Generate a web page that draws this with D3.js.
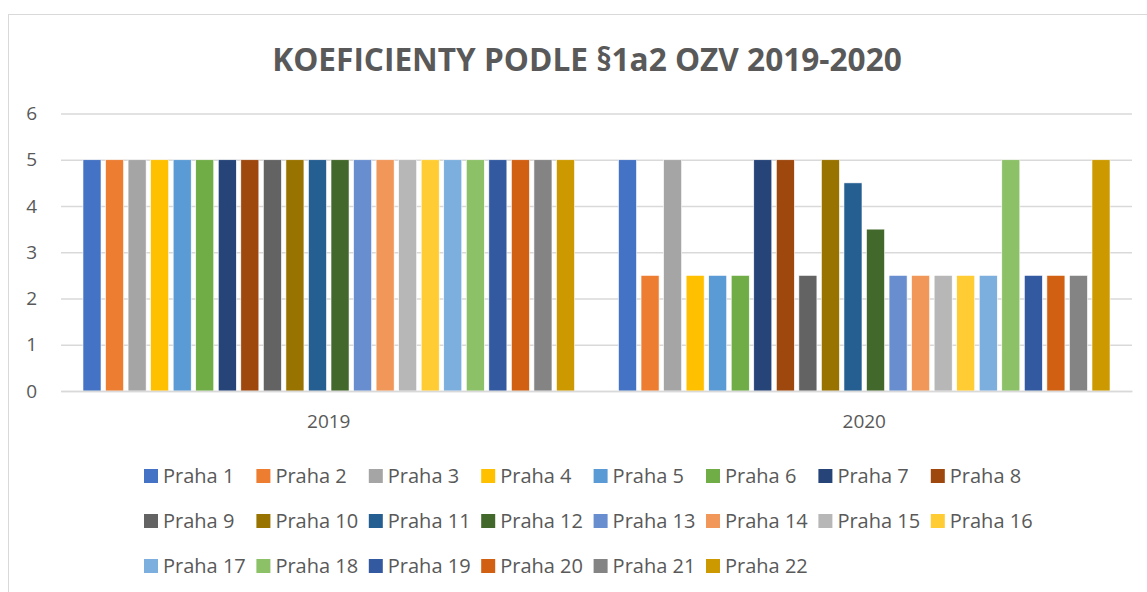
<!DOCTYPE html>
<html>
<head>
<meta charset="utf-8">
<style>
  body { margin: 0; background: #fff; }
  text { font-family: "Open Sans", sans-serif; fill: #595959; }
</style>
</head>
<body>
<svg id="chart" width="1147" height="592"></svg>
<script src="https://cdnjs.cloudflare.com/ajax/libs/d3/7.8.5/d3.min.js"></script>
<script>
// data
var years = ["2019", "2020"];
var districts = ["Praha 1", "Praha 2", "Praha 3", "Praha 4", "Praha 5", "Praha 6", "Praha 7", "Praha 8",
  "Praha 9", "Praha 10", "Praha 11", "Praha 12", "Praha 13", "Praha 14", "Praha 15", "Praha 16",
  "Praha 17", "Praha 18", "Praha 19", "Praha 20", "Praha 21", "Praha 22"];
var values2019 = [5, 5, 5, 5, 5, 5, 5, 5, 5, 5, 5, 5, 5, 5, 5, 5, 5, 5, 5, 5, 5, 5];
var values2020 = [5, 2.5, 5, 2.5, 2.5, 2.5, 5, 5, 2.5, 5, 4.5, 3.5, 2.5, 2.5, 2.5, 2.5, 2.5, 5, 2.5, 2.5, 2.5, 5];
var yTicks = [0, 1, 2, 3, 4, 5, 6];
var colors = ["#4472C4", "#ED7D31", "#A5A5A5", "#FFC000", "#5B9BD5", "#70AD47", "#264478", "#9E480E",
  "#636363", "#997300", "#255E91", "#43682B", "#698ED0", "#F1975A", "#B7B7B7", "#FFCD33",
  "#7CAFDD", "#8CC168", "#335AA1", "#D26012", "#848484", "#CC9A00"];

var rows = years.map(function(y, i) {
  return { year: y, vals: i == 0 ? values2019 : values2020 };
});

var svg = d3.select("#chart");

// outer chart frame
svg.append("rect")
  .attr("x", 8.5).attr("y", 14.5)
  .attr("width", 1200).attr("height", 700)
  .attr("fill", "none").attr("stroke", "#d9d9d9");

svg.append("text")
  .attr("x", 587).attr("y", 71)
  .attr("text-anchor", "middle")
  .style("font-size", "31.6px").style("font-weight", "bold")
  .text("KOEFICIENTY PODLE §1a2 OZV 2019-2020");

var plotL = 61, plotR = 1132, plotT = 113.5, plotB = 391;

var x0 = d3.scaleBand().domain(years).range([plotL, plotR]);
var x1 = d3.scaleBand().domain(districts).range([0, x0.bandwidth()])
  .paddingInner(0.2).paddingOuter(0.975);
var y = d3.scaleLinear().domain([0, 6]).range([plotB, plotT]);
var color = d3.scaleOrdinal().domain(districts).range(colors);

// gridlines + y labels
var yAxis = d3.axisLeft(y).tickValues(yTicks).tickSize(-(plotR - plotL)).tickFormat(d3.format("d"));
var gy = svg.append("g").attr("transform", "translate(" + plotL + ",0)").call(yAxis);
gy.select(".domain").remove();
gy.selectAll("line").attr("stroke", "#d9d9d9").attr("stroke-width", 1.3);
gy.selectAll("text").attr("x", -24).style("font-size", "19px").style("fill", "#595959");

// bars
svg.append("g").selectAll("g").data(rows).join("g")
  .attr("transform", function(d) { return "translate(" + x0(d.year) + ",0)"; })
  .selectAll("rect")
  .data(function(d) { return d.vals.map(function(v, i) { return { name: districts[i], v: v }; }); })
  .join("rect")
  .attr("x", function(d) { return x1(d.name); })
  .attr("width", x1.bandwidth())
  .attr("y", function(d) { return y(d.v); })
  .attr("height", function(d) { return y(0) - y(d.v); })
  .attr("fill", function(d) { return color(d.name); })
  .attr("stroke", "#fff").attr("stroke-width", 0.6);

// category axis
var xAxis = d3.axisBottom(x0).tickSize(0).tickPadding(24);
var gx = svg.append("g").attr("transform", "translate(0," + plotB + ")").call(xAxis);
gx.select(".domain").attr("stroke", "#d9d9d9").attr("stroke-width", 1.5);
gx.selectAll("text").style("font-size", "19px").style("fill", "#595959");

// legend: 8 columns, 3 rows
var legend = svg.append("g").selectAll("g").data(districts).join("g")
  .attr("transform", function(d, i) {
    return "translate(" + (144 + (i % 8) * 112.4) + "," + (476 + Math.floor(i / 8) * 45) + ")";
  });
legend.append("rect")
  .attr("x", 0).attr("y", -7).attr("width", 14).attr("height", 14)
  .attr("fill", function(d) { return color(d); });
legend.append("text")
  .attr("x", 19).attr("y", 7)
  .style("font-size", "20px")
  .text(function(d) { return d; });
</script>
</body>
</html>
